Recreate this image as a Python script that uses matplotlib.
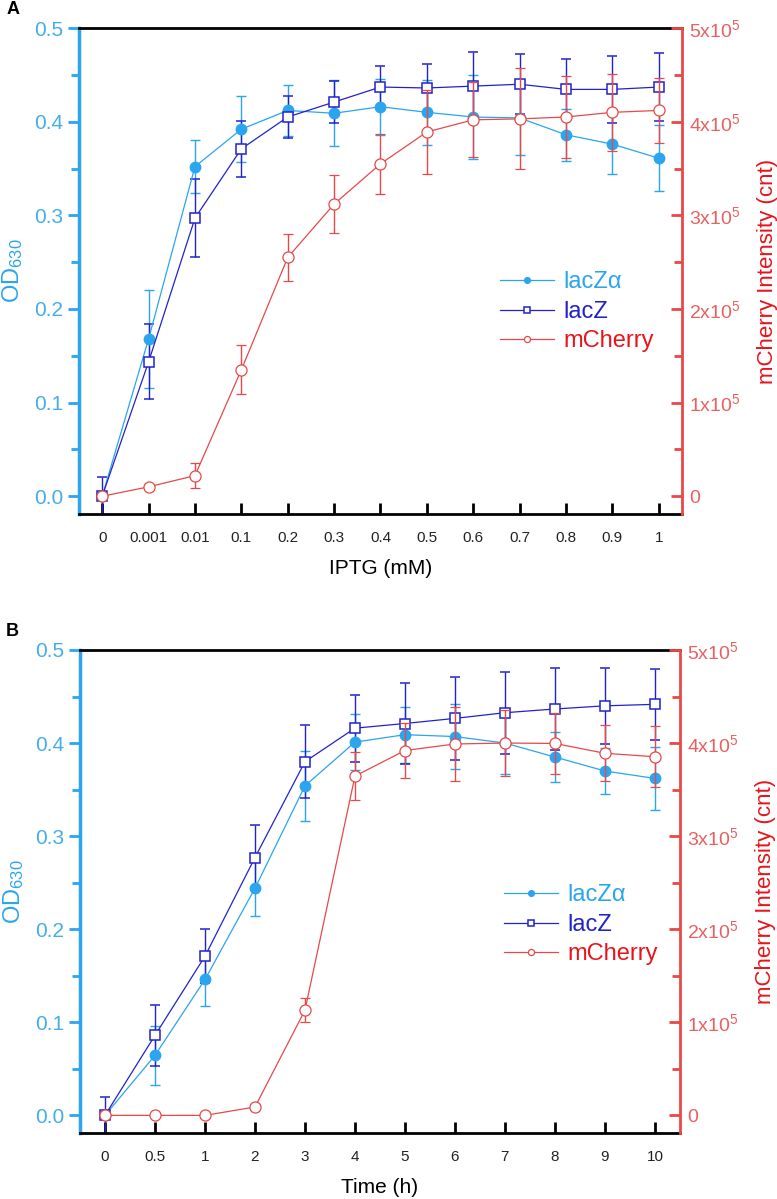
import matplotlib
matplotlib.use("Agg")
import matplotlib.pyplot as plt
from matplotlib.ticker import FuncFormatter, MultipleLocator

plt.rcParams['font.family'] = ['Liberation Sans', 'DejaVu Sans']
plt.rcParams['mathtext.fontset'] = 'custom'
plt.rcParams['mathtext.rm'] = 'Liberation Sans'
plt.rcParams['mathtext.it'] = 'Liberation Sans:italic'

# panel A: IPTG dose response
iptg_labels = ['0', '0.001', '0.01', '0.1', '0.2', '0.3', '0.4', '0.5', '0.6', '0.7', '0.8', '0.9', '1']
a_lacza = [0.0, 0.168, 0.352, 0.392, 0.412, 0.409, 0.416, 0.410, 0.405, 0.404, 0.386, 0.376, 0.361]
a_lacza_err = [0.0, 0.052, 0.028, 0.035, 0.027, 0.035, 0.030, 0.035, 0.045, 0.040, 0.028, 0.032, 0.035]
a_lacz = [0.0, 0.1435, 0.297, 0.371, 0.405, 0.421, 0.437, 0.436, 0.438, 0.440, 0.4345, 0.4345, 0.437]
a_lacz_err = [0.02, 0.04, 0.042, 0.03, 0.022, 0.022, 0.022, 0.026, 0.036, 0.032, 0.032, 0.036, 0.036]
a_mcherry = [0, 1.0e4, 2.2e4, 1.35e5, 2.55e5, 3.12e5, 3.55e5, 3.89e5, 4.02e5, 4.03e5, 4.05e5, 4.10e5, 4.12e5]
a_mcherry_err = [2e3, 3e3, 1.3e4, 2.6e4, 2.5e4, 3.1e4, 3.2e4, 4.5e4, 4.0e4, 5.4e4, 4.4e4, 4.1e4, 3.5e4]

# panel B: time course
time_labels = ['0', '0.5', '1', '2', '3', '4', '5', '6', '7', '8', '9', '10']
b_lacza = [0.0, 0.0645, 0.146, 0.244, 0.354, 0.401, 0.409, 0.407, 0.400, 0.385, 0.370, 0.362]
b_lacza_err = [0.0, 0.032, 0.028, 0.030, 0.038, 0.030, 0.030, 0.035, 0.033, 0.027, 0.025, 0.034]
b_lacz = [0.0, 0.086, 0.171, 0.277, 0.380, 0.416, 0.421, 0.4265, 0.4326, 0.4366, 0.440, 0.4416]
b_lacz_err = [0.02, 0.033, 0.029, 0.035, 0.039, 0.036, 0.044, 0.045, 0.044, 0.044, 0.041, 0.038]
b_mcherry = [0, 0, 0, 9e3, 1.13e5, 3.645e5, 3.92e5, 3.99e5, 4.0e5, 3.996e5, 3.89e5, 3.853e5]
b_mcherry_err = [2e3, 2e3, 3e3, 3e3, 1.3e4, 2.6e4, 3.0e4, 4.0e4, 3.5e4, 3.3e4, 3.0e4, 3.3e4]

c_lacza = '#2AA5EE'
c_lacz = '#2222CC'
c_mch = '#E84848'


def sci(v, pos):
    if abs(v) < 1:
        return '0'
    return '%dx10$^{5}$' % round(v / 1e5)


def panel(rect, labels, lacza, lacza_err, lacz, lacz_err, mch, mch_err, xlabel, letter, leg_pos):
    ax = fig.add_axes(rect)
    ax2 = ax.twinx()
    x = list(range(len(labels)))

    e1 = ax.errorbar(x, lacza, yerr=lacza_err, color=c_lacza, marker='o', ms=7.5,
                     mfc=c_lacza, mec=c_lacza, lw=0.9, elinewidth=1.0, capsize=3.5)
    e2 = ax.errorbar(x, lacz, yerr=lacz_err, color=c_lacz, marker='s', ms=7,
                     mfc='white', mec=c_lacz, mew=1.1, lw=0.9, elinewidth=1.0, capsize=3.5)
    e3 = ax2.errorbar(x, mch, yerr=mch_err, color=c_mch, marker='o', ms=8,
                      mfc='white', mec=c_mch, mew=0.9, lw=0.9, elinewidth=1.0, capsize=3.5)

    ax.set_xlim(-0.5, len(labels) - 0.5)
    ax.set_ylim(-0.019, 0.5)
    ax2.set_ylim(-19000, 500000)
    ax.set_xticks(x)
    ax.set_xticklabels(labels)

    ax.yaxis.set_major_locator(MultipleLocator(0.1))
    ax.yaxis.set_minor_locator(MultipleLocator(0.05))
    ax.yaxis.set_major_formatter(FuncFormatter(lambda v, p: '%.1f' % v))
    ax2.yaxis.set_major_locator(MultipleLocator(1e5))
    ax2.yaxis.set_minor_locator(MultipleLocator(5e4))
    ax2.yaxis.set_major_formatter(FuncFormatter(sci))

    ax.tick_params(axis='y', which='both', direction='out', color=c_lacza, width=2,
                   labelcolor='#45AEEA', labelsize=15)
    ax.tick_params(axis='y', which='major', length=8)
    ax.tick_params(axis='y', which='minor', length=6)
    ax.tick_params(axis='x', direction='in', length=8, width=2, color='black',
                   labelcolor='#222222', labelsize=11, pad=12)
    ax2.tick_params(axis='y', which='both', direction='in', color=c_mch, width=2,
                    labelcolor='#E86060', labelsize=14, pad=5)
    ax2.tick_params(axis='y', which='major', length=8)
    ax2.tick_params(axis='y', which='minor', length=6)

    ax.spines['left'].set_color(c_lacza)
    ax.spines['left'].set_linewidth(2.5)
    ax.spines['right'].set_visible(False)
    ax.spines['top'].set_linewidth(2)
    ax.spines['bottom'].set_linewidth(2)
    for s in ['left', 'top', 'bottom']:
        ax2.spines[s].set_visible(False)
    ax2.spines['right'].set_color(c_mch)
    ax2.spines['right'].set_linewidth(2)

    ax.set_ylabel('OD$_{630}$', color=c_lacza, fontsize=17, labelpad=6)
    ax2.set_ylabel('mCherry Intensity (cnt)', color='#E8141A', fontsize=16, labelpad=12)
    ax.set_xlabel(xlabel, fontsize=15, labelpad=10)

    handles = [e1[0], e2[0], e3[0]]
    leg = ax2.legend(handles, ['lacZα', 'lacZ', 'mCherry'], loc='center left',
                     bbox_to_anchor=leg_pos, frameon=False, fontsize=17, markerscale=0.55,
                     handlelength=2.3, handletextpad=0.4, labelspacing=0.32,
                     borderpad=0, borderaxespad=0)
    for t, c in zip(leg.get_texts(), [c_lacza, c_lacz, '#E8141A']):
        t.set_color(c)

    fig.text(0.008, rect[1] + rect[3] + 0.012, letter, fontsize=13, fontweight='bold')
    return ax, ax2


fig = plt.figure(figsize=(7.77, 11.99), dpi=100)

panel([0.1017, 0.5713, 0.776, 0.4053], iptg_labels, a_lacza, a_lacza_err, a_lacz, a_lacz_err,
      a_mcherry, a_mcherry_err, 'IPTG (mM)', 'A', (0.698, 0.416))
panel([0.103, 0.055, 0.772, 0.4029], time_labels, b_lacza, b_lacza_err, b_lacz, b_lacz_err,
      b_mcherry, b_mcherry_err, 'Time (h)', 'B', (0.707, 0.431))

fig.savefig('out.png', dpi=100)
